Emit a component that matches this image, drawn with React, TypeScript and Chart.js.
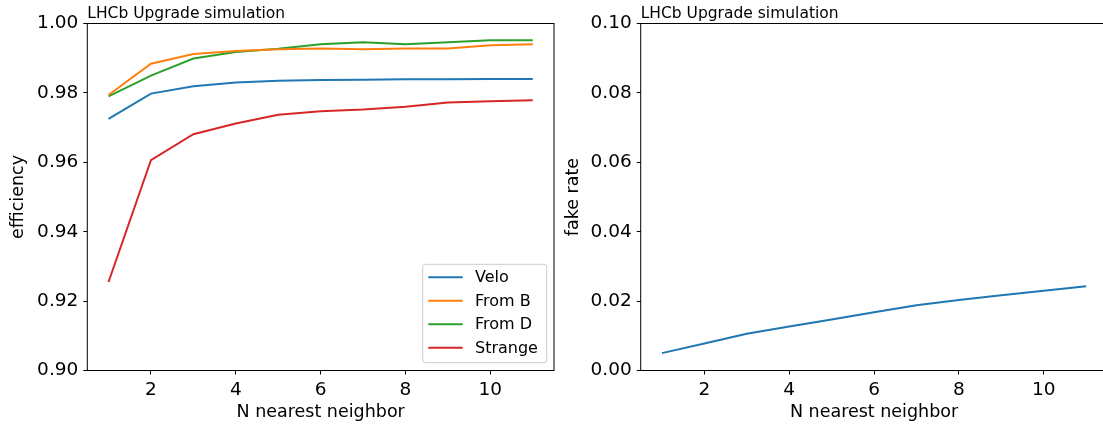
import React, { useEffect, useRef } from "react";
import { Chart, registerables } from "chart.js";

Chart.register(...registerables);

// ---- data ----
const nNeighbors = [1, 2, 3, 4, 5, 6, 7, 8, 9, 10, 11];
const velo = [0.9725, 0.9798, 0.9819, 0.983, 0.9835, 0.9837, 0.9838, 0.9839, 0.9839, 0.984, 0.984];
const fromB = [0.9794, 0.9884, 0.9912, 0.9921, 0.9926, 0.9928, 0.9926, 0.9928, 0.9928, 0.9937, 0.994];
const fromD = [0.979, 0.985, 0.9899, 0.9918, 0.9927, 0.994, 0.9946, 0.994, 0.9946, 0.9952, 0.9952];
const strange = [0.9255, 0.9606, 0.9681, 0.9712, 0.9737, 0.9747, 0.9752, 0.976, 0.9772, 0.9776, 0.9779];
const fakeRate = [0.005, 0.0078, 0.0106, 0.0127, 0.0147, 0.0168, 0.0188, 0.0203, 0.0217, 0.023, 0.0243];

const seriesLabels = ["Velo", "From B", "From D", "Strange"];
const xTicks = [2, 4, 6, 8, 10];
const effTicks = [0.9, 0.92, 0.94, 0.96, 0.98, 1.0];
const fakeTicks = [0, 0.02, 0.04, 0.06, 0.08, 0.1];
const titleText = "LHCb Upgrade simulation";
const xTitle = "N nearest neighbor";
const effTitle = "efficiency";
const fakeTitle = "fake rate";

const COLORS = ["#1f77b4", "#ff7f0e", "#2ca02c", "#d62728"];
const FONT = "'DejaVu Sans', sans-serif";
const TICK_SIZE = 18.5;
const LABEL_SIZE = 17.5;

const pts = (ys: number[]) => nNeighbors.map((n, i) => ({ x: n, y: ys[i] }));

function decorPlugin(opts: { yTitle: string; yTitleX: number; legend: boolean }) {
  return {
    id: "decor",
    afterDraw(chart: any) {
      const { ctx, chartArea: a } = chart;
      ctx.save();
      // frame
      ctx.strokeStyle = "#000";
      ctx.lineWidth = 1;
      ctx.strokeRect(a.left, a.top, a.right - a.left, a.bottom - a.top);
      // title
      ctx.fillStyle = "#000";
      ctx.font = `15.5px ${FONT}`;
      ctx.textAlign = "left";
      ctx.textBaseline = "alphabetic";
      ctx.fillText(titleText, a.left, 17.5);
      // x title
      ctx.font = `${LABEL_SIZE}px ${FONT}`;
      ctx.textAlign = "center";
      ctx.fillText(xTitle, (a.left + a.right) / 2, 416.5);
      // y title
      ctx.save();
      ctx.translate(opts.yTitleX, (a.top + a.bottom) / 2);
      ctx.rotate(-Math.PI / 2);
      ctx.textBaseline = "middle";
      ctx.fillText(opts.yTitle, 0, 0);
      ctx.restore();
      // legend
      if (opts.legend) {
        const ds = chart.data.datasets;
        const w = 124, h = 98.4;
        const bx = a.right - 7.3 - w;
        const by = a.bottom - 7.8 - h;
        ctx.beginPath();
        const r = 3;
        ctx.moveTo(bx + r, by);
        ctx.arcTo(bx + w, by, bx + w, by + h, r);
        ctx.arcTo(bx + w, by + h, bx, by + h, r);
        ctx.arcTo(bx, by + h, bx, by, r);
        ctx.arcTo(bx, by, bx + w, by, r);
        ctx.closePath();
        ctx.fillStyle = "rgba(255,255,255,0.8)";
        ctx.fill();
        ctx.strokeStyle = "#cccccc";
        ctx.lineWidth = 1;
        ctx.stroke();
        ctx.font = `16px ${FONT}`;
        ctx.textAlign = "left";
        ctx.textBaseline = "middle";
        ds.forEach((d: any, i: number) => {
          const cy = by + 13 + i * 23.5;
          ctx.strokeStyle = d.borderColor;
          ctx.lineWidth = 2;
          ctx.beginPath();
          ctx.moveTo(bx + 5.6, cy);
          ctx.lineTo(bx + 40, cy);
          ctx.stroke();
          ctx.fillStyle = "#000";
          ctx.fillText(d.label, bx + 52.3, cy + 1);
        });
      }
      ctx.restore();
    },
  };
}

function makeOptions(yTicks: number[], rightPad: number, yWidth: number) {
  const tickFont = { family: FONT, size: TICK_SIZE };
  return {
    responsive: false,
    animation: false as const,
    layout: { padding: { top: 23.5, right: rightPad, left: 0, bottom: 0 } },
    plugins: { legend: { display: false }, tooltip: { enabled: false }, title: { display: false } },
    elements: { point: { radius: 0 }, line: { tension: 0, borderWidth: 2 } },
    scales: {
      x: {
        type: "linear" as const,
        min: 0.5,
        max: 11.5,
        afterBuildTicks: (s: any) => {
          s.ticks = xTicks.map((v) => ({ value: v }));
        },
        afterFit: (s: any) => {
          s.height = 55.5;
        },
        ticks: { font: tickFont, color: "#000", padding: 4.5, maxRotation: 0, autoSkip: false, callback: (v: any) => String(v) },
        grid: { drawOnChartArea: false, drawTicks: true, tickLength: 4, color: "#000", tickColor: "#000" },
        border: { display: false },
      },
      y: {
        type: "linear" as const,
        min: yTicks[0],
        max: yTicks[yTicks.length - 1],
        afterBuildTicks: (s: any) => {
          s.ticks = yTicks.map((v) => ({ value: v }));
        },
        afterFit: (s: any) => {
          s.width = yWidth;
        },
        ticks: { font: tickFont, color: "#000", padding: 5, autoSkip: false, callback: (v: any) => Number(v).toFixed(2) },
        grid: { drawOnChartArea: false, drawTicks: true, tickLength: 4, color: "#000", tickColor: "#000" },
        border: { display: false },
      },
    },
  };
}

function EffChart() {
  const ref = useRef<HTMLCanvasElement>(null);
  useEffect(() => {
    const series = [velo, fromB, fromD, strange];
    const chart = new Chart(ref.current as HTMLCanvasElement, {
      type: "line",
      data: {
        datasets: series.map((s, i) => ({
          label: seriesLabels[i],
          data: pts(s),
          borderColor: COLORS[i],
          backgroundColor: COLORS[i],
          borderWidth: 2,
          pointRadius: 0,
          fill: false,
        })),
      },
      options: makeOptions(effTicks, 6, 87.3) as any,
      plugins: [decorPlugin({ yTitle: effTitle, yTitleX: 18.5, legend: true })],
    });
    return () => chart.destroy();
  }, []);
  return <canvas ref={ref} width={560} height={426} style={{ position: "absolute", left: 0, top: 0 }} />;
}

function FakeChart() {
  const ref = useRef<HTMLCanvasElement>(null);
  useEffect(() => {
    const chart = new Chart(ref.current as HTMLCanvasElement, {
      type: "line",
      data: {
        datasets: [
          {
            label: "fake rate",
            data: pts(fakeRate),
            borderColor: COLORS[0],
            backgroundColor: COLORS[0],
            borderWidth: 2,
            pointRadius: 0,
            fill: false,
          },
        ],
      },
      options: makeOptions(fakeTicks, 12.6, 80.7) as any,
      plugins: [decorPlugin({ yTitle: fakeTitle, yTitleX: 13, legend: false })],
    });
    return () => chart.destroy();
  }, []);
  return <canvas ref={ref} width={560} height={426} style={{ position: "absolute", left: 560, top: 0 }} />;
}

export default function App() {
  return (
    <div
      style={{
        position: "fixed",
        left: 0,
        top: 0,
        width: 1103,
        height: 426,
        overflow: "hidden",
        background: "#fff",
      }}
    >
      <EffChart />
      <FakeChart />
    </div>
  );
}
